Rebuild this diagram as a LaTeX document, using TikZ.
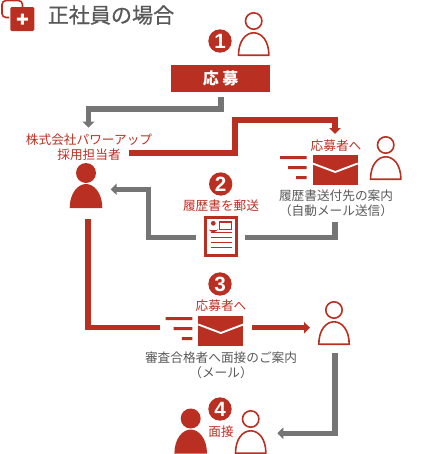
\documentclass[tikz,border=0pt]{standalone}
\usepackage{fontspec}
\usepackage{xcolor}
\usetikzlibrary{arrows.meta,positioning}
\setmainfont{Liberation Sans}
\newfontfamily\cjk{Noto Sans CJK JP}
\newfontfamily\cjkhead[FakeBold=0.8]{Noto Sans CJK JP}
\definecolor{mRed}{HTML}{B93023}
\definecolor{mGray}{HTML}{757575}
\definecolor{mText}{HTML}{595959}

\begin{document}
\begin{tikzpicture}[x=0.75pt, y=-0.75pt, font=\cjk\fontsize{9.5pt}{11pt}\selectfont,
  lbl/.style={text=mRed, inner sep=0pt}, note/.style={text=mText, inner sep=0pt},
  num/.style={circle, fill=mRed, text=white, inner sep=0pt, minimum size=17.5pt, font=\rmfamily\bfseries\fontsize{15.5pt}{15.5pt}\selectfont},
  redline/.style={draw=mRed, line width=4pt, -{Triangle[width=8.5pt,length=4.5pt]}},
  grayline/.style={draw=mGray, line width=4pt, -{Triangle[width=8.5pt,length=4.5pt]}},
  plainend/.style={arrows=-},
  person/.pic={\draw[mRed, line width=1.2pt] (0,0) circle (8.2);
    \draw[mRed, line width=1.2pt, line join=round] (-15.2,34.2) .. controls (-15.2,20) and (-8,11.8) .. (0,11.8) .. controls (8,11.8) and (15.2,20) .. (15.2,34.2) -- cycle;},
  staff/.pic={\fill[mRed] (0,0) circle (10);
    \fill[mRed] (-16.3,35) .. controls (-16.3,20) and (-8,11) .. (0,11) .. controls (8,11) and (16.3,20) .. (16.3,35) -- cycle;},
  mail/.pic={\fill[mRed] (0,0) rectangle (45,30);
    \draw[white, line width=1.4pt] (0,8.5) -- (22.5,17) -- (45,8.5);
    \fill[mRed] (-32.7,1) rectangle (-6,4) (-24.7,11) rectangle (-6,14) (-16.5,21) rectangle (-6,24);}]
\useasboundingbox (0,0) rectangle (430,454);

\draw[mRed, line width=1.2pt, rounded corners=3pt] (9,17.5) -| (2,0.5) -| (22.5,8);
\node[fill=mRed, rounded corners=1pt, minimum size=18pt, inner sep=0pt] (badge) at (22.3,19) {};
\fill[white] (20.8,13.5) rectangle (23.8,24.5) (16.8,17.5) rectangle (27.8,20.5);
\node[text=mText, inner sep=0pt, anchor=west, font=\cjkhead\fontsize{15.8pt}{16pt}\selectfont] (title) at (47.5,15) {正社員の場合};

\node[num] (one) at (220,41) {1}; \pic at (253.7,21) {person};
\node[fill=mRed, text=white, minimum width=74pt, minimum height=20pt, inner sep=0pt, font=\cjk\bfseries\fontsize{12pt}{12pt}\selectfont] (apply) at (220.6,78.3) {応 募};
\node[lbl] (company) at (89,140) {株式会社パワーアップ};
\node[lbl,below=1.8pt of company] (recruiter) {採用担当者};
\pic at (86,173) {staff};

\node[lbl] (toapplicant) at (336,145.7) {応募者へ};
\pic at (312.7,155) {mail}; \pic at (385.7,145) {person};
\node[note] (guide) at (336,196) {履歴書送付先の案内};
\node[note,below=1.8pt of guide] (automail) {（自動メール送信）};

\node[num] (two) at (220.7,184) {2};
\node[lbl] (post) at (221,205.7) {履歴書を郵送};
\node[draw=mRed, line width=2.2pt, minimum width=23.3pt, minimum height=29pt, inner sep=0pt] (resume) at (221,236.5) {};
\fill[mRed] (213.3,223.3) circle (2.4) (209,230.2) -- (209,229) arc (180:0:4.3 and 3.2) -- (217.6,230.2) -- cycle;
\draw[mRed, line width=0.9pt] (219.5,222) rectangle (231.2,229.7);
\foreach \yy in {232.7,237.7,242.7,247.7} \draw[mRed, line width=1.1pt] (210.7,\yy) -- (231.7,\yy);

\node[num] (three) at (220,284) {3};
\node[lbl] (toapplicantb) at (221,306) {応募者へ};
\pic at (198.3,316) {mail}; \pic at (334,310) {person};
\node[note] (invite) at (221,357.7) {審査合格者へ面接のご案内};
\node[note,below=1.8pt of invite] (bymail) {（メール）};

\node[num] (four) at (220,409) {4};
\node[lbl] (interview) at (221,431.7) {面接};
\pic at (190.7,418.5) {staff}; \pic at (250.7,419) {person};

\coordinate (a1) at (221,97); \coordinate (a2) at (88.5,127.7);
\coordinate (b1) at (129,153); \coordinate (b2) at (335,134);
\coordinate (c1) at (196,237.3); \coordinate (c2) at (110.7,189.3);
\coordinate (d1) at (245,237.3); \coordinate (d2) at (335,221.7);
\coordinate (e1) at (88,219); \coordinate (e2) at (160,327.7);
\coordinate (f1) at (252,327.7); \coordinate (f2) at (310,327.7);
\coordinate (g1) at (335,352.7); \coordinate (g2) at (277.3,433.3);

\draw[grayline] (a1) |- (150,109) -| (a2);
\draw[redline] (b1) -| (235,120) -| (b2);
\draw[grayline] (c1) -| (148.3,189.3) -- (c2);
\draw[grayline,plainend] (d1) -| (d2);
\draw[redline,plainend] (e1) |- (e2);
\draw[redline] (f1) -- (f2);
\draw[grayline] (g1) |- (g2);
\end{tikzpicture}
\end{document}
